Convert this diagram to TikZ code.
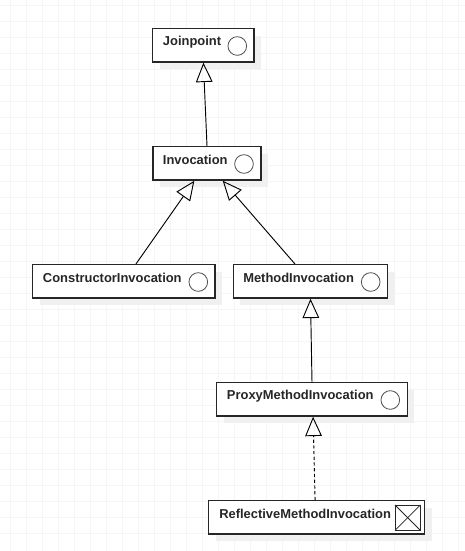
\documentclass[tikz,border=0pt]{standalone}
\usepackage{fontspec}
\setmainfont{Liberation Sans}
\usetikzlibrary{positioning}
\usetikzlibrary{arrows.meta}
\usetikzlibrary{shadows}

\begin{document}
\begin{tikzpicture}[x=0.75pt, y=-0.75pt,
    classbox/.style={draw=black!85, line width=1pt, fill=white, minimum height=25pt, inner sep=0pt,
      drop shadow={shadow xshift=5.25pt, shadow yshift=-5.25pt, fill=black!6, opacity=1}},
    classname/.style={anchor=west, inner sep=0pt, font=\bfseries\fontsize{9.7}{11}\selectfont, text=black!85},
    mark circle/.style={draw=black!70, line width=0.6pt, circle, minimum size=14pt, inner sep=0pt},
    mark square/.style={draw=black!85, line width=0.6pt, minimum size=18.5pt, inner sep=0pt},
    generalizes/.style={-{Triangle[open, length=14.5pt, width=12.5pt]}, line width=0.7pt, black}]
    \useasboundingbox (0,0) rectangle (465,551);
    % Grid
    \foreach \gx in {10,26,...,458} {\draw[black!4, line width=0.6pt] (\gx,0) -- (\gx,551);}
    \foreach \gy in {5.7,21.7,...,548} {\draw[black!4, line width=0.6pt] (0,\gy) -- (465,\gy);}

    % Nodes
    \node[classbox, minimum width=76pt] (joinpoint) at (203.4,45.4) {};
    \node[classbox, minimum width=81.2pt] (invocation) at (207,163.4) {};
    \node[classbox, minimum width=136.7pt] (ctor) at (123.9,281.4) {};
    \node[classbox, minimum width=115.8pt] (method) at (310.5,281.4) {};
    \node[classbox, minimum width=143pt] (proxy) at (312,399.4) {};
    \node[classbox, minimum width=162pt] (reflective) at (316.7,517.4) {};

    % Names
    \node[classname] (joinpointname) at (162.7,42) {Joinpoint};
    \node[classname] (invocationname) at (162.7,160) {Invocation};
    \node[classname] (ctorname) at (42.7,278) {ConstructorInvocation};
    \node[classname] (methodname) at (243,278) {MethodInvocation};
    \node[classname] (proxyname) at (226.7,396) {ProxyMethodInvocation};
    \node[classname] (reflectivename) at (219,514) {ReflectiveMethodInvocation};

    % Marks
    \node[mark circle] (joinpointmark) at (237.3,46) {};
    \node[mark circle] (invocationmark) at (244,164) {};
    \node[mark circle] (ctormark) at (198.3,282) {};
    \node[mark circle] (methodmark) at (370.7,282) {};
    \node[mark circle] (proxymark) at (390.3,400) {};
    \node[mark square] (reflectivemark) at (407.7,517.7) {};
    \draw[black!85, line width=0.6pt] (reflectivemark.north west) -- (reflectivemark.south east);
    \draw[black!85, line width=0.6pt] (reflectivemark.north east) -- (reflectivemark.south west);

    % Edges
    \draw[generalizes] (invocation.north) -- (joinpoint.south);
    \draw[generalizes] ([xshift=9pt]ctor.north) -- ([xshift=-9.5pt]invocation.south);
    \draw[generalizes] ([xshift=-11.6pt]method.north) -- ([xshift=11.8pt]invocation.south);
    \draw[generalizes] (proxy.north) -- (method.south);
    \draw[generalizes, dash pattern=on 2.4pt off 1.9pt] ([xshift=-1.2pt]reflective.north) -- ([xshift=0.8pt]proxy.south);
\end{tikzpicture}
\end{document}
